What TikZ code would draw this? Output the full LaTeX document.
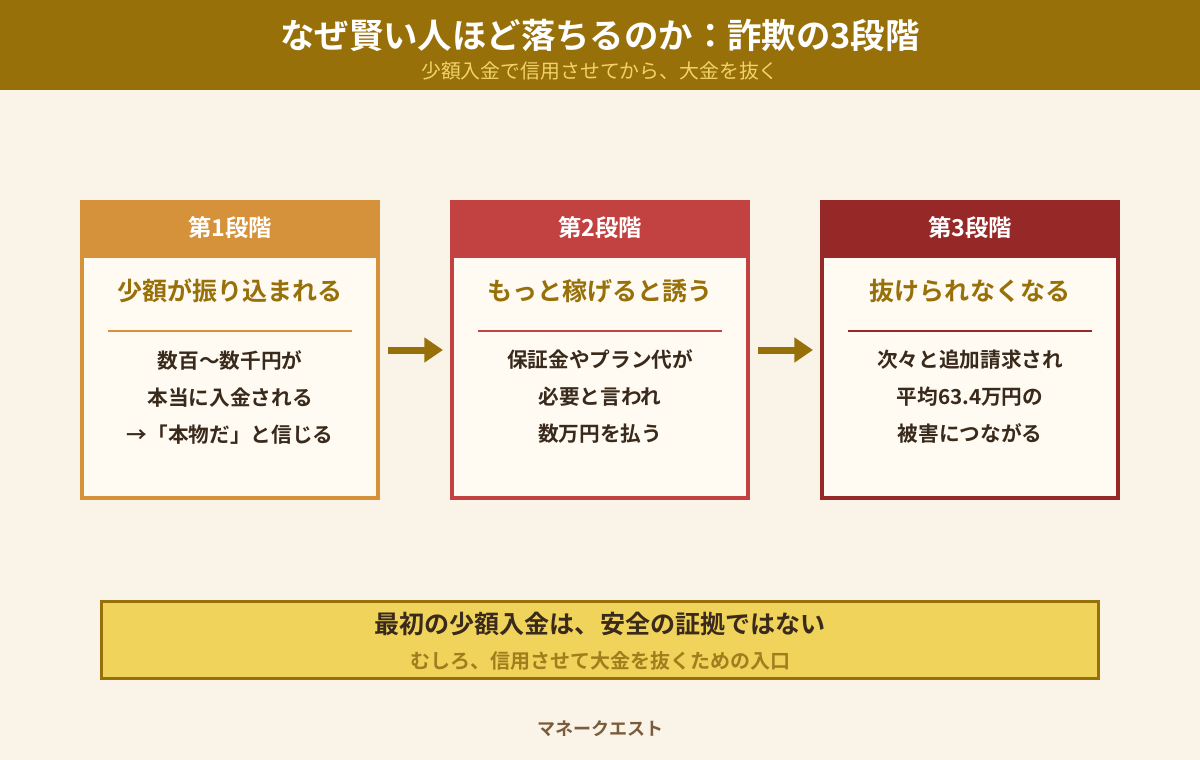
\documentclass[tikz,border=0pt]{standalone}
\usepackage{fontspec}
\setmainfont{Noto Sans CJK JP}[BoldFont={Noto Sans CJK JP Bold}]
\usetikzlibrary{arrows.meta}
\definecolor{bg}{HTML}{FAF3E8}
\definecolor{gold}{HTML}{98700A}
\definecolor{subyel}{HTML}{F2D36A}
\definecolor{cA}{HTML}{D6923A}
\definecolor{cB}{HTML}{C24242}
\definecolor{cC}{HTML}{972828}
\definecolor{bodyfill}{HTML}{FFFBF2}
\definecolor{ink}{HTML}{3A2A1C}
\definecolor{notefill}{HTML}{F0D35A}
\definecolor{notesub}{HTML}{A07E1E}
\definecolor{foot}{HTML}{7A5C3A}
\tikzset{
  stagebox/.style={draw=#1, fill=bodyfill, line width=3pt, minimum width=222pt, minimum height=222pt, inner sep=0pt},
  stagehead/.style={font=\bfseries\fontsize{17.5}{20}\selectfont, text=white},
  stagetitle/.style={font=\bfseries\fontsize{18.8}{22}\selectfont, text=gold},
  stagebody/.style={font=\bfseries\fontsize{15.5}{27.75}\selectfont, text=ink, align=center},
  flowarrow/.style={draw=gold, line width=5.25pt, -{Triangle[length=14pt,width=18pt]}, shorten <=6pt, shorten >=5.25pt},
}
\begin{document}
\begin{tikzpicture}[x=0.75pt,y=-0.75pt]
\fill[bg] (0,0) rectangle (1200,760);
\useasboundingbox (0,0) rectangle (1200,760);
% header
\fill[gold] (0,0) rectangle (1200,90);
\node[font=\bfseries\fontsize{25.8}{30}\selectfont, text=white] (title) at (600,35) {なぜ賢い人ほど落ちるのか：詐欺の3段階};
\node[font=\fontsize{14.9}{17}\selectfont, text=subyel] (subtitle) at (600,71) {少額入金で信用させてから、大金を抜く};

% stage 1
\node[stagebox=cA] (b1) at (230,350) {};
\fill[cA] (80,200) rectangle (380,258);
\node[stagehead] (h1) at (230,228) {第1段階};
\node[stagetitle] (t1) at (230,291) {少額が振り込まれる};
\draw[cA, line width=1.1pt] (108,331) -- (352,331);
\node[stagebody] (d1) at (230,397) {数百〜数千円が\\本当に入金される\\→「本物だ」と信じる};

% stage 2
\node[stagebox=cB] (b2) at (600,350) {};
\fill[cB] (450,200) rectangle (750,258);
\node[stagehead] (h2) at (600,228) {第2段階};
\node[stagetitle] (t2) at (600,291) {もっと稼げると誘う};
\draw[cB, line width=1.1pt] (478,331) -- (722,331);
\node[stagebody] (d2) at (600,397) {保証金やプラン代が\\必要と言われ\\数万円を払う};

% stage 3
\node[stagebox=cC] (b3) at (970,350) {};
\fill[cC] (820,200) rectangle (1120,258);
\node[stagehead] (h3) at (970,228) {第3段階};
\node[stagetitle] (t3) at (970,291) {抜けられなくなる};
\draw[cC, line width=1.1pt] (848,331) -- (1092,331);
\node[stagebody] (d3) at (970,397) {次々と追加請求され\\平均63.4万円の\\被害につながる};

% arrows
\draw[flowarrow] (b1.east) -- (b2.west);
\draw[flowarrow] (b2.east) -- (b3.west);

% note
\node[draw=gold, fill=notefill, line width=2.25pt, minimum width=747.75pt, minimum height=57.75pt, inner sep=0pt] (note) at (600,640) {};
\node[font=\bfseries\fontsize{18.8}{22}\selectfont, text=ink] (n1) at (600,624) {最初の少額入金は、安全の証拠ではない};
\node[font=\bfseries\fontsize{15}{18}\selectfont, text=notesub] (n2) at (600,661) {むしろ、信用させて大金を抜くための入口};

% footer
\node[font=\bfseries\fontsize{13.5}{16}\selectfont, text=foot] (footer) at (600,729) {マネークエスト};
\end{tikzpicture}
\end{document}
